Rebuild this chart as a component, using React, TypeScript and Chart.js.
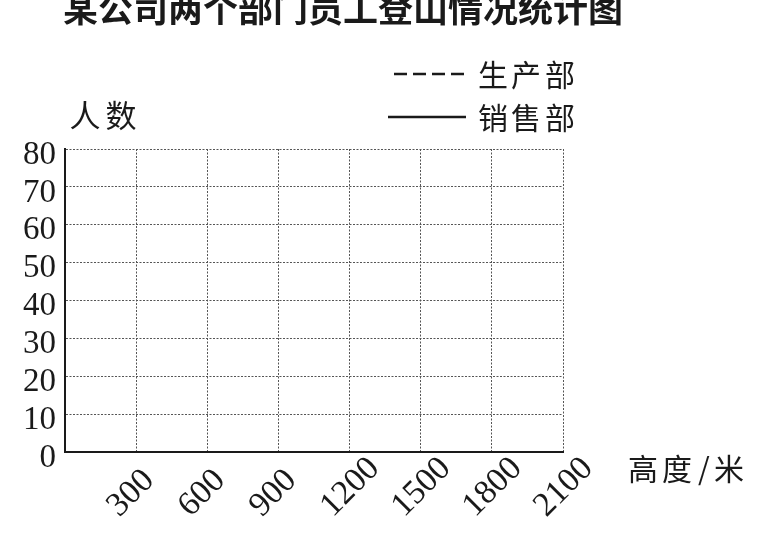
import React, { useEffect, useRef } from 'react';
import { Chart, registerables } from 'chart.js';

Chart.register(...registerables);

const chartTitle = '某公司两个部门员工登山情况统计图';
const yAxisTitle = '人数';
const xAxisTitle = '高度/米';
const seriesNames = ['生产部', '销售部'];
const heights = [0, 300, 600, 900, 1200, 1500, 1800, 2100];
const xTickLabels = ['', '300', '600', '900', '1200', '1500', '1800', '2100'];
const yTickValues = [0, 10, 20, 30, 40, 50, 60, 70, 80];
// The reference chart is a blank template: no values plotted yet.
const productionData: { x: number; y: number }[] = [];
const salesData: { x: number; y: number }[] = [];

const INK = '#1a1a1a';
const CJK = '"Noto Sans CJK SC", "Noto Sans", sans-serif';
const SERIF = '"Liberation Serif", "DejaVu Serif", serif';
const FIGURE_SPACE = '\u2007';

function drawSpaced(ctx: CanvasRenderingContext2D, text: string, centers: number[], y: number) {
  ctx.textAlign = 'center';
  for (let i = 0; i < text.length; i++) ctx.fillText(text[i], centers[i], y);
}

const textPlugin = {
  id: 'templateTexts',
  afterDraw(chart: any) {
    const ctx = chart.ctx as CanvasRenderingContext2D;
    ctx.save();
    ctx.fillStyle = INK;
    // title (clipped at the top as in the scan)
    ctx.font = `bold 35px ${CJK}`;
    ctx.textAlign = 'left';
    ctx.textBaseline = 'alphabetic';
    ctx.fillText(chartTitle, 63, 22);

    // y axis title
    ctx.font = `31px ${CJK}`;
    ctx.textBaseline = 'middle';
    drawSpaced(ctx, yAxisTitle, [85, 121], 115);

    // x axis title
    ctx.font = `30px ${CJK}`;
    drawSpaced(ctx, xAxisTitle, [643, 677, 704, 729], 469);

    // legend
    const rows = [
      { y: 74, x1: 394, x2: 466, ds: chart.data.datasets[0] },
      { y: 117, x1: 388, x2: 466, ds: chart.data.datasets[1] },
    ];
    rows.forEach((r) => {
      ctx.save();
      ctx.strokeStyle = r.ds.borderColor;
      ctx.lineWidth = r.ds.borderWidth;
      ctx.setLineDash(r.ds.borderDash || []);
      ctx.beginPath();
      ctx.moveTo(r.x1, r.y);
      ctx.lineTo(r.x2, r.y);
      ctx.stroke();
      ctx.restore();
      ctx.font = `30px ${CJK}`;
      ctx.textBaseline = 'middle';
      drawSpaced(ctx, r.ds.label, [493, 526, 560], r.y + 1);
    });
    ctx.restore();
  },
};

export default function App() {
  const canvasRef = useRef<HTMLCanvasElement | null>(null);

  useEffect(() => {
    if (!canvasRef.current) return;
    const chart = new Chart(canvasRef.current, {
      type: 'line',
      data: {
        datasets: [
          {
            label: seriesNames[0],
            data: productionData,
            borderColor: INK,
            borderWidth: 2.5,
            borderDash: [13, 6],
            pointRadius: 0,
          },
          {
            label: seriesNames[1],
            data: salesData,
            borderColor: INK,
            borderWidth: 2.5,
            pointRadius: 0,
          },
        ],
      },
      options: {
        animation: false,
        responsive: true,
        maintainAspectRatio: false,
        layout: { padding: { top: 149, right: 205, left: 0, bottom: 0 } },
        plugins: {
          legend: { display: false },
          title: { display: false },
          tooltip: { enabled: false },
        },
        scales: {
          x: {
            type: 'linear',
            min: 0,
            max: 2100,
            afterBuildTicks: (scale: any) => {
              scale.ticks = heights.map((v) => ({ value: v }));
            },
            afterFit: (scale: any) => {
              scale.height = 86;
            },
            ticks: {
              autoSkip: false,
              minRotation: 45,
              maxRotation: 45,
              padding: -3,
              labelOffset: 25,
              color: INK,
              font: { family: SERIF, size: 34 },
              // labels are start-aligned in the scan: pad short ones to equal width
              callback: (_v: any, i: number) => {
                const s = xTickLabels[i];
                return s && s.length < 4 ? s + FIGURE_SPACE.repeat(4 - s.length) : s;
              },
            },
            grid: { color: '#555', lineWidth: 1, drawTicks: false },
            border: { display: true, color: INK, width: 2, dash: [2, 1.5] },
          },
          y: {
            min: 0,
            max: 80,
            afterBuildTicks: (scale: any) => {
              scale.ticks = yTickValues.map((v) => ({ value: v }));
            },
            afterFit: (scale: any) => {
              scale.width = 65;
            },
            ticks: {
              autoSkip: false,
              padding: 9,
              labelOffset: 6,
              color: INK,
              font: { family: SERIF, size: 33 },
            },
            grid: { color: '#555', lineWidth: 1, drawTicks: false },
            border: { display: true, color: INK, width: 2, dash: [2, 1.5] },
          },
        },
      },
      plugins: [textPlugin],
    } as any);
    return () => chart.destroy();
  }, []);

  return (
    <div
      style={{
        position: 'fixed',
        left: 0,
        top: 0,
        width: '768px',
        height: '538px',
        background: '#ffffff',
      }}
    >
      <canvas ref={canvasRef} />
    </div>
  );
}
